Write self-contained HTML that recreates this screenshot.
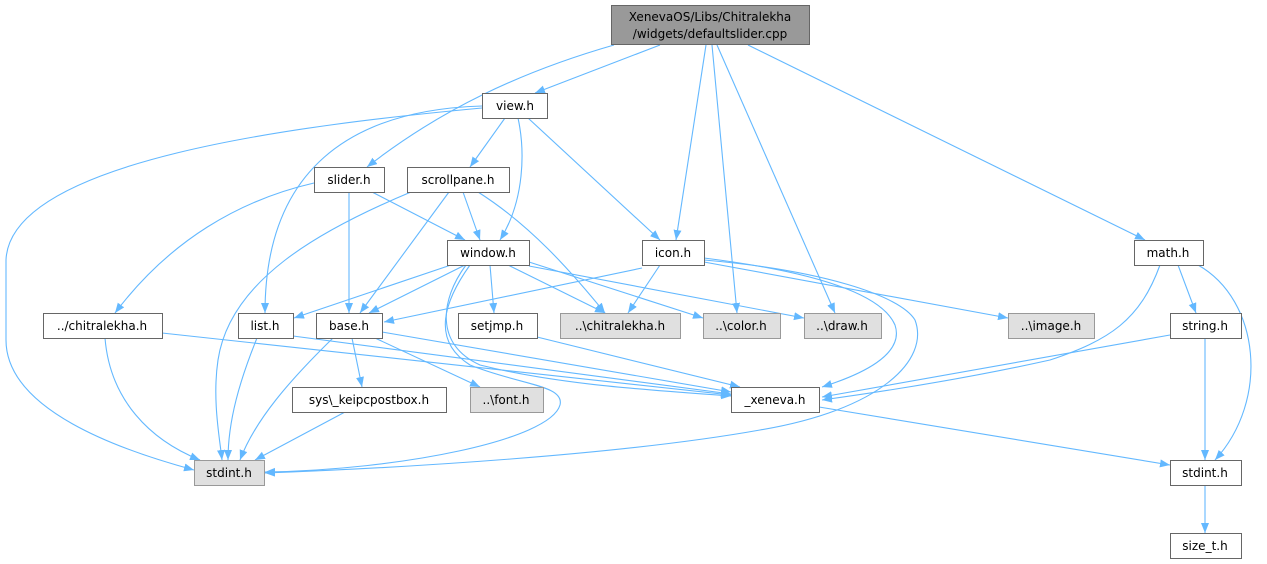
<!DOCTYPE html>
<html><head><meta charset="utf-8"><style>
html,body{margin:0;padding:0;background:#fff;}
svg{display:block;}
text{font-family:"DejaVu Sans","Liberation Sans",sans-serif;font-size:12px;fill:#000;}
</style></head><body>
<svg width="1267" height="564" viewBox="0 0 1267 564" xmlns="http://www.w3.org/2000/svg">
<defs>
<marker id="a" markerUnits="userSpaceOnUse" markerWidth="12" markerHeight="10" refX="10" refY="4" orient="auto">
<path d="M0,0 L10,4 L0,8 z" fill="#63b8ff"/>
</marker>
</defs>
<g fill="none" stroke="#63b8ff" stroke-width="1.1" marker-end="url(#a)">
<path d="M660,45 L535,93"/>
<path d="M614,45 C520,72 440,110 367,167"/>
<path d="M706,45 L676,240"/>
<path d="M712,45 L737,313"/>
<path d="M717,45 L835,313"/>
<path d="M748,45 L1145,240"/>
<path d="M482,108 C300,125 10,160 6,260 L6,340 C6,410 120,450 194,470"/>
<path d="M482,106 C350,110 265,170 265,313"/>
<path d="M505,118 L470,167"/>
<path d="M518,118 C525,150 525,200 500,240"/>
<path d="M528,118 L660,240"/>
<path d="M314,183 C240,200 170,240 115,313"/>
<path d="M349,192 L349,313"/>
<path d="M372,192 L465,240"/>
<path d="M411,192 C320,230 230,280 218,360 C212,400 220,440 222,460"/>
<path d="M449,192 L360,313"/>
<path d="M463,192 L480,240"/>
<path d="M478,192 C530,225 570,270 605,313"/>
<path d="M451,265 L294,318"/>
<path d="M465,265 L369,313"/>
<path d="M490,265 L494,313"/>
<path d="M508,265 L605,313"/>
<path d="M529,262 L703,318"/>
<path d="M529,266 L804,318"/>
<path d="M470,265 C445,300 430,340 470,365 C520,385 565,385 560,405 C550,440 400,470 265,472"/>
<path d="M466,265 C440,300 435,345 480,365 C560,385 650,390 731,396"/>
<path d="M642,268 L384,322"/>
<path d="M660,265 L628,313"/>
<path d="M704,262 L1008,318"/>
<path d="M704,258 C800,270 880,290 895,325 C905,355 860,375 822,387"/>
<path d="M704,260 C820,270 900,295 915,320 C930,360 880,410 760,430 C620,455 400,468 265,473"/>
<path d="M1178,265 L1196,313"/>
<path d="M1198,265 C1260,300 1270,400 1215,460"/>
<path d="M1160,265 C1140,320 1110,340 1050,360 C960,380 880,392 822,400"/>
<path d="M1170,335 L822,397"/>
<path d="M1205,338 L1205,460"/>
<path d="M105,338 C110,400 150,440 200,460"/>
<path d="M162,333 L731,395"/>
<path d="M257,338 C240,380 228,420 228,460"/>
<path d="M293,336 L731,394"/>
<path d="M333,338 C290,380 255,420 240,460"/>
<path d="M352,338 L362,387"/>
<path d="M375,338 L480,387"/>
<path d="M382,332 L731,392"/>
<path d="M537,337 L740,387"/>
<path d="M345,412 L255,460"/>
<path d="M819,407 L1170,465"/>
<path d="M1205,485 L1205,533"/>
</g>
<g stroke="#666" stroke-width="1">
<rect x="611.5" y="5.5" width="198" height="39" fill="#999"/>
<rect x="482.5" y="93.5" width="65" height="25" fill="#fff"/>
<rect x="314.5" y="167.5" width="70" height="25" fill="#fff"/>
<rect x="407.5" y="167.5" width="102" height="25" fill="#fff"/>
<rect x="447.5" y="240.5" width="82" height="25" fill="#fff"/>
<rect x="642.5" y="240.5" width="62" height="25" fill="#fff"/>
<rect x="1134.5" y="240.5" width="69" height="25" fill="#fff"/>
<rect x="43.5" y="313.5" width="119" height="25" fill="#fff"/>
<rect x="238.5" y="313.5" width="55" height="25" fill="#fff"/>
<rect x="316.5" y="313.5" width="66" height="25" fill="#fff"/>
<rect x="458.5" y="313.5" width="79" height="25" fill="#fff"/>
<rect x="1170.5" y="313.5" width="71" height="25" fill="#fff"/>
<rect x="292.5" y="387.5" width="154" height="25" fill="#fff"/>
<rect x="731.5" y="387.5" width="88" height="25" fill="#fff"/>
<rect x="1170.5" y="460.5" width="71" height="25" fill="#fff"/>
<rect x="1170.5" y="533.5" width="71" height="25" fill="#fff"/>
</g>
<g stroke="#999" stroke-width="1" fill="#e0e0e0">
<rect x="560.5" y="313.5" width="120" height="25"/>
<rect x="703.5" y="313.5" width="77" height="25"/>
<rect x="804.5" y="313.5" width="77" height="25"/>
<rect x="1008.5" y="313.5" width="86" height="25"/>
<rect x="470.5" y="387.5" width="73" height="25"/>
<rect x="194.5" y="460.5" width="70" height="25"/>
</g>
<g text-anchor="middle">
<text x="710" y="21">XenevaOS/Libs/Chitralekha</text>
<text x="710" y="38">/widgets/defaultslider.cpp</text>
<text x="515" y="110">view.h</text>
<text x="349" y="184">slider.h</text>
<text x="458" y="184">scrollpane.h</text>
<text x="488" y="257">window.h</text>
<text x="673" y="257">icon.h</text>
<text x="1168" y="257">math.h</text>
<text x="102" y="330">../chitralekha.h</text>
<text x="265" y="330">list.h</text>
<text x="349" y="330">base.h</text>
<text x="497" y="330">setjmp.h</text>
<text x="620" y="330">..\chitralekha.h</text>
<text x="741" y="330">..\color.h</text>
<text x="842" y="330">..\draw.h</text>
<text x="1051" y="330">..\image.h</text>
<text x="1205" y="330">string.h</text>
<text x="369" y="404">sys\_keipcpostbox.h</text>
<text x="506" y="404">..\font.h</text>
<text x="775" y="404">_xeneva.h</text>
<text x="229" y="477">stdint.h</text>
<text x="1205" y="477">stdint.h</text>
<text x="1205" y="550">size_t.h</text>
</g>
</svg>
</body></html>
